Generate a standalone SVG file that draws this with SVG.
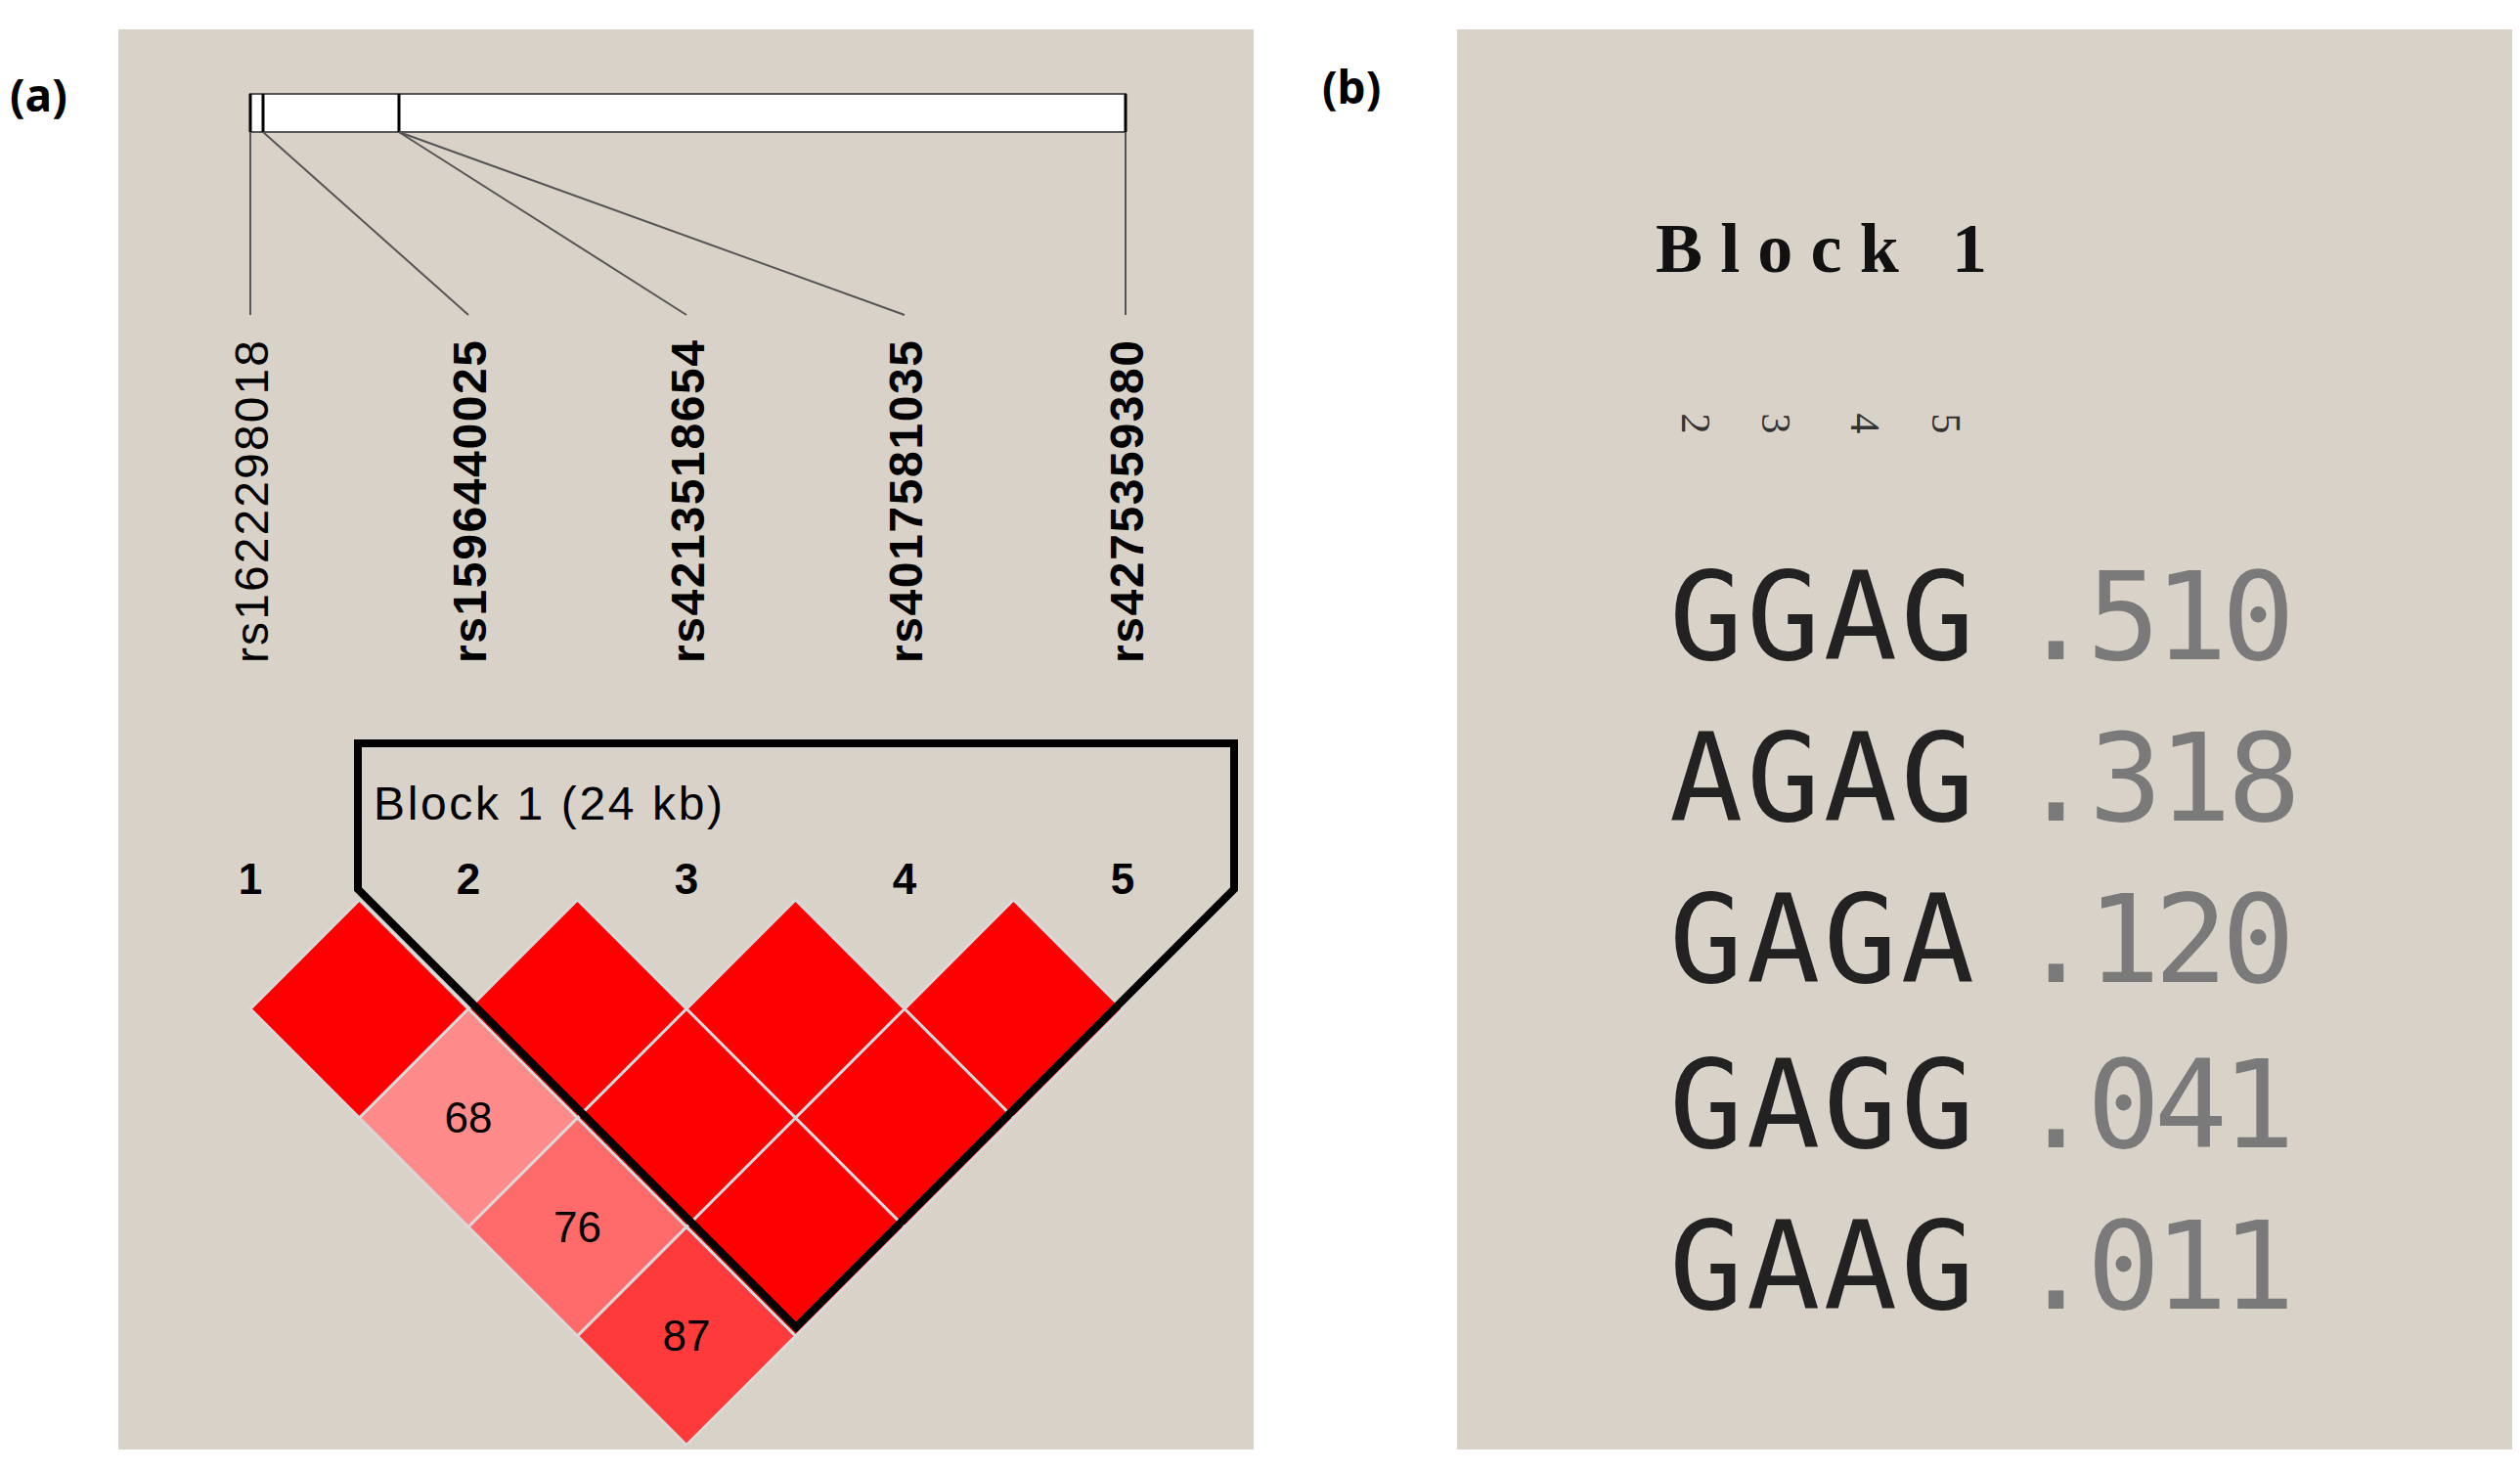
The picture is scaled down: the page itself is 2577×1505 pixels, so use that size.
<svg xmlns="http://www.w3.org/2000/svg" width="2577" height="1505" viewBox="0 0 2577 1505">
<style>
.bg{fill:#d8d2c9}
.lbl{font-family:"Liberation Sans",Arial,sans-serif;font-size:48px;fill:#000}
.num{font-family:"Liberation Sans",Arial,sans-serif;font-size:44px;font-weight:bold;fill:#000}
.d{stroke:#d9d9d9;stroke-width:3}
.dv{font-family:"Liberation Sans",Arial,sans-serif;font-size:44px;fill:#000;text-anchor:middle}
.hap{font-family:"DejaVu Sans Mono",monospace;font-size:125px;fill:#222}
.frq{font-family:"DejaVu Sans Mono",monospace;font-size:125px;fill:#7a7a7a}
.pl{font-family:"Noto Sans","Liberation Sans",sans-serif;font-size:46px;font-weight:bold;fill:#000}
</style>
<rect width="2577" height="1505" fill="#fff"/>
<text class="pl" x="10" y="114">(a)</text>
<text class="pl" x="1352" y="106">(b)</text>
<g id="panelA">
<rect class="bg" x="121" y="30" width="1161" height="1452"/>
<rect x="256" y="96" width="895" height="39" fill="#fff" stroke="#555" stroke-width="2"/>
<g stroke="#000" stroke-width="3"><line x1="256" y1="96" x2="256" y2="135"/><line x1="269" y1="96" x2="269" y2="135"/><line x1="408" y1="96" x2="408" y2="135"/><line x1="1151" y1="96" x2="1151" y2="135"/></g>
</g>
<g id="connectors" stroke="#555" stroke-width="2" fill="none">
<line x1="256" y1="135" x2="256" y2="322"/>
<line x1="269" y1="135" x2="479" y2="322"/>
<line x1="408" y1="135" x2="702" y2="322"/>
<line x1="408" y1="135" x2="925" y2="322"/>
<line x1="1151" y1="135" x2="1151" y2="322"/>
</g>
<g id="snpLabels">
<text class="lbl" transform="translate(274,678) rotate(-90)" textLength="330">rs1622298018</text>
<text class="lbl" transform="translate(497,678) rotate(-90)" font-weight="bold" textLength="330">rs1596440025</text>
<text class="lbl" transform="translate(720,678) rotate(-90)" font-weight="bold" textLength="330">rs4213518654</text>
<text class="lbl" transform="translate(943,678) rotate(-90)" font-weight="bold" textLength="330">rs4017581035</text>
<text class="lbl" transform="translate(1169,678) rotate(-90)" font-weight="bold" textLength="330">rs4275359380</text>
</g>
<g id="numbers">
<text class="num" x="256" y="914" text-anchor="middle">1</text>
<text class="num" x="479" y="914" text-anchor="middle">2</text>
<text class="num" x="702" y="914" text-anchor="middle">3</text>
<text class="num" x="925" y="914" text-anchor="middle">4</text>
<text class="num" x="1148" y="914" text-anchor="middle">5</text>
</g>
<g id="diamonds">
<polygon class="d" fill="#ff0000" points="367.5,920 479,1031.5 367.5,1143 256,1031.5"/>
<polygon class="d" fill="#ff0000" points="590.5,920 702,1031.5 590.5,1143 479,1031.5"/>
<polygon class="d" fill="#ff0000" points="813.5,920 925,1031.5 813.5,1143 702,1031.5"/>
<polygon class="d" fill="#ff0000" points="1036.5,920 1148,1031.5 1036.5,1143 925,1031.5"/>
<polygon class="d" fill="#ff8a8a" points="479,1031.5 590.5,1143 479,1254.5 367.5,1143"/>
<polygon class="d" fill="#ff0000" points="702,1031.5 813.5,1143 702,1254.5 590.5,1143"/>
<polygon class="d" fill="#ff0000" points="925,1031.5 1036.5,1143 925,1254.5 813.5,1143"/>
<polygon class="d" fill="#ff6b6b" points="590.5,1143 702,1254.5 590.5,1366 479,1254.5"/>
<polygon class="d" fill="#ff0000" points="813.5,1143 925,1254.5 813.5,1366 702,1254.5"/>
<polygon class="d" fill="#ff3a3a" points="702,1254.5 813.5,1366 702,1477.5 590.5,1366"/>
<text class="dv" x="479" y="1158">68</text>
<text class="dv" x="590.5" y="1270">76</text>
<text class="dv" x="702" y="1381">87</text>
</g>
<g id="block">
<polygon points="366,760 1262,760 1262,909 814,1357 366,909" fill="none" stroke="#000" stroke-width="8"/>
<text class="lbl" x="382" y="838" font-size="44" textLength="357">Block 1 (24 kb)</text>
</g>
<g id="panelB">
<rect class="bg" x="1490" y="30" width="1079" height="1452"/>
<text x="1693" y="278" font-family="Liberation Serif,serif" font-weight="bold" font-size="72" fill="#111" textLength="339">Block 1</text>
<g font-family="Liberation Serif,serif" font-size="42" fill="#333">
<text transform="translate(1720,433) rotate(90)" text-anchor="middle">2</text>
<text transform="translate(1802,433) rotate(90)" text-anchor="middle">3</text>
<text transform="translate(1893,433) rotate(90)" text-anchor="middle">4</text>
<text transform="translate(1976,433) rotate(90)" text-anchor="middle">5</text>
</g>
<text class="hap" x="1707" y="674" textLength="312">GGAG</text><text class="frq" x="2065" y="674" textLength="282">.510</text>
<text class="hap" x="1707" y="839" textLength="312">AGAG</text><text class="frq" x="2065" y="839" textLength="288">.318</text>
<text class="hap" x="1707" y="1004" textLength="312">GAGA</text><text class="frq" x="2065" y="1004" textLength="282">.120</text>
<text class="hap" x="1707" y="1173" textLength="312">GAGG</text><text class="frq" x="2065" y="1173" textLength="282">.041</text>
<text class="hap" x="1707" y="1338" textLength="312">GAAG</text><text class="frq" x="2065" y="1338" textLength="282">.011</text>
</g>
</svg>
